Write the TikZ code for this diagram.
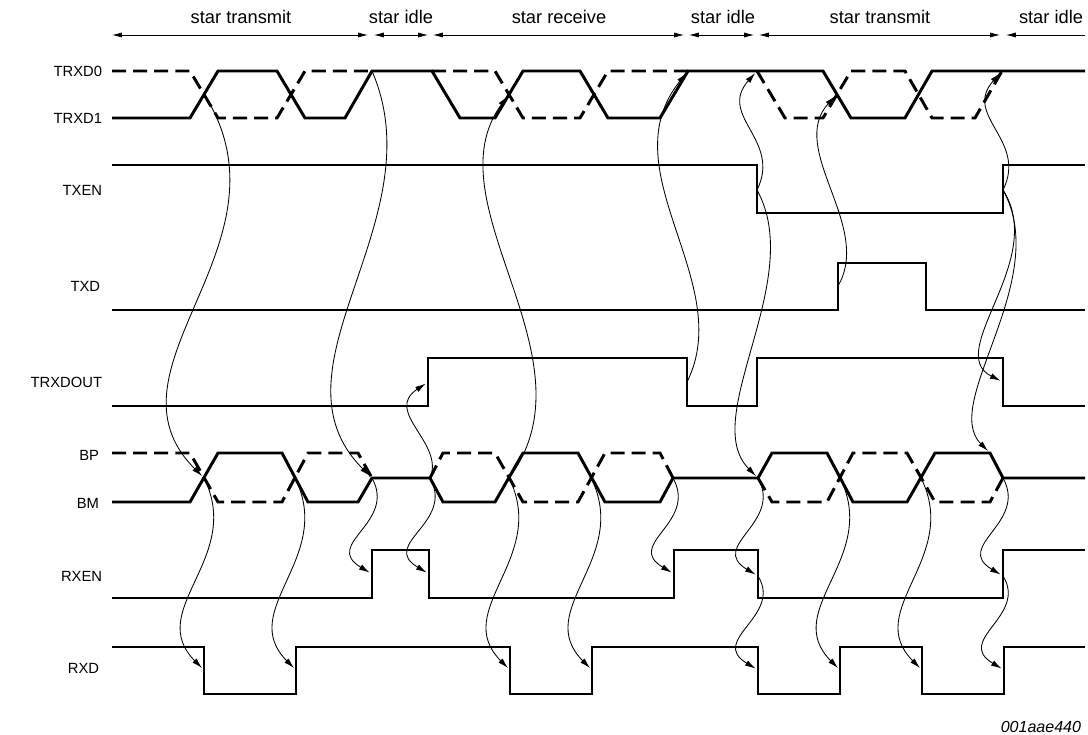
\documentclass[tikz,border=0pt]{standalone}
\usepackage{fontspec}
\setmainfont{Liberation Sans}
\usetikzlibrary{arrows.meta}
\begin{document}
\begin{tikzpicture}[x=0.025cm, y=-0.025cm,
    wave/.style={line width=2.1pt},
    dwave/.style={line width=2.1pt, dash pattern=on 10pt off 5pt},
    cause/.style={line width=0.6pt, -{Latex[length=7.5pt,width=4.2pt]}, shorten >=2pt},
    span/.style={line width=0.5pt, {Latex[length=7pt,width=3.6pt]}-{Latex[length=7pt,width=3.6pt]}},
    sig/.style={anchor=east, font=\fontsize{10.5}{13}\selectfont},
    phase/.style={font=\fontsize{13}{15}\selectfont}]
    \useasboundingbox (0,0) rectangle (1088,735);

    % phases along the top
    \node[phase] (ph1) at (241,17) {star transmit};
    \node[phase] (ph2) at (401,17) {star idle};
    \node[phase] (ph3) at (559,17) {star receive};
    \node[phase] (ph4) at (723,17) {star idle};
    \node[phase] (ph5) at (880,17) {star transmit};
    \node[phase] (ph6) at (1051,17) {star idle};
    \coordinate (b0) at (112,35);
    \coordinate (b1l) at (368,35); \coordinate (b1r) at (374,35);
    \coordinate (b2l) at (428,35); \coordinate (b2r) at (433,35);
    \coordinate (b3l) at (684,35); \coordinate (b3r) at (689,35);
    \coordinate (b4l) at (754,35); \coordinate (b4r) at (759,35);
    \coordinate (b5l) at (1000,35); \coordinate (b5r) at (1006,35);
    \coordinate (b6) at (1085,35);
    \draw[span] (b0) -- (b1l);
    \draw[span] (b1r) -- (b2l);
    \draw[span] (b2r) -- (b3l);
    \draw[span] (b3r) -- (b4l);
    \draw[span] (b4r) -- (b5l);
    \draw[line width=0.5pt, {Latex[length=7pt,width=3.6pt]}-] (b5r) -- (b6);

    % signal names
    \node[sig] (lTRXDa) at (107,71) {TRXD0};
    \node[sig] (lTRXDb) at (107,118) {TRXD1};
    \node[sig] (lTXEN) at (107,190) {TXEN};
    \node[sig] (lTXD) at (105,286) {TXD};
    \node[sig] (lTRXDOUT) at (107,382) {TRXDOUT};
    \node[sig] (lBP) at (104,455) {BP};
    \node[sig] (lBM) at (104,503) {BM};
    \node[sig] (lRXEN) at (107,576) {RXEN};
    \node[sig] (lRXD) at (104,668) {RXD};

    % TRXD0 / TRXD1
    \draw[wave] (112,118) -- (190,118) -- (218,71) -- (277,71) -- (305,118) -- (345,118) -- (372,71)
        -- (432,71) -- (460,118) -- (495,118) -- (523,71) -- (580,71) -- (608,118) -- (660,118) -- (688,71)
        -- (823,71) -- (851,118) -- (905,118) -- (932,71) -- (1085,71);
    \draw[dwave] (112,71) -- (190,71) -- (218,118) -- (277,118) -- (305,71) -- (372,71);
    \draw[dwave] (432,71) -- (495,71) -- (523,118) -- (580,118) -- (608,71) -- (688,71);
    \draw[dwave] (757,71) -- (785,118) -- (823,118) -- (851,71) -- (905,71) -- (932,118) -- (975,118) -- (1002,71);

    % TXEN, TXD, TRXDOUT
    \draw[wave] (112,165) -- (757,165) -- (757,213) -- (1003,213) -- (1003,165) -- (1085,165);
    \draw[wave] (112,310) -- (838,310) -- (838,263) -- (926,263) -- (926,310) -- (1085,310);
    \draw[wave] (112,406) -- (428,406) -- (428,358) -- (687,358) -- (687,406) -- (757,406) -- (757,358)
        -- (1003,358) -- (1003,406) -- (1085,406);

    % BP / BM
    \draw[wave] (112,502) -- (190,502) -- (218,453) -- (282,453) -- (308,502) -- (358,502) -- (372,478)
        -- (430,478) -- (443,502) -- (495,502) -- (523,453) -- (578,453) -- (605,502) -- (660,502) -- (673,478)
        -- (758,478) -- (772,453) -- (827,453) -- (853,502) -- (907,502) -- (935,453) -- (990,453) -- (1003,478)
        -- (1085,478);
    \draw[dwave] (112,453) -- (190,453) -- (218,502) -- (282,502) -- (308,453) -- (358,453) -- (372,478);
    \draw[dwave] (430,478) -- (443,453) -- (495,453) -- (523,502) -- (578,502) -- (605,453) -- (660,453) -- (673,478);
    \draw[dwave] (758,478) -- (772,502) -- (827,502) -- (853,453) -- (907,453) -- (935,502) -- (990,502) -- (1003,478);

    % RXEN, RXD
    \draw[wave] (112,598) -- (372,598) -- (372,550) -- (429,550) -- (429,598) -- (674,598) -- (674,550)
        -- (758,550) -- (758,598) -- (1003,598) -- (1003,550) -- (1085,550);
    \draw[wave] (112,647) -- (204,647) -- (204,694) -- (296,694) -- (296,647) -- (510,647) -- (510,694)
        -- (592,694) -- (592,647) -- (758,647) -- (758,694) -- (840,694) -- (840,647) -- (922,647) -- (922,694)
        -- (1004,694) -- (1004,647) -- (1085,647);

    % events
    \coordinate (trxdXa) at (204,94);
    \coordinate (trxdTopA) at (372,71);
    \coordinate (trxdXc) at (509,94);
    \coordinate (trxdTopB) at (688,71);
    \coordinate (trxdFallC) at (757,71);
    \coordinate (trxdXe) at (837,94);
    \coordinate (trxdTopD) at (1002,71);
    \coordinate (txenFall) at (757,190);
    \coordinate (txenRise) at (1003,190);
    \coordinate (txdRise) at (838,286);
    \coordinate (rxoRise) at (428,382);
    \coordinate (rxoFallA) at (687,382);
    \coordinate (rxoFallB) at (1003,382);
    \coordinate (busXa) at (204,478);
    \coordinate (busXb) at (295,478);
    \coordinate (busMa) at (372,478);
    \coordinate (busDa) at (430,478);
    \coordinate (busXc) at (509,478);
    \coordinate (busXd) at (591,478);
    \coordinate (busMb) at (673,478);
    \coordinate (busDb) at (758,478);
    \coordinate (busXe) at (840,478);
    \coordinate (busXf) at (921,478);
    \coordinate (busMc) at (1003,478);
    \coordinate (busEdge) at (990,453);
    \coordinate (rxenRa) at (372,574);
    \coordinate (rxenFa) at (429,574);
    \coordinate (rxenRb) at (674,574);
    \coordinate (rxenFb) at (758,576);
    \coordinate (rxenRc) at (1003,576);
    \coordinate (rxdFa) at (204,670);
    \coordinate (rxdRa) at (296,670);
    \coordinate (rxdFb) at (510,670);
    \coordinate (rxdRb) at (592,670);
    \coordinate (rxdFc) at (758,670);
    \coordinate (rxdRc) at (840,670);
    \coordinate (rxdFd) at (922,670);
    \coordinate (rxdRd) at (1004,670);

    % star transmit
    \draw[cause] (trxdXa) .. controls +(95,150) and +(-110,-110) .. (busXa);
    \draw[cause] (trxdTopA) .. controls +(65,150) and +(-110,-110) .. (busMa);
    \draw[cause] (busXa) .. controls +(40,80) and +(-60,-60) .. (rxdFa);
    \draw[cause] (busXb) .. controls +(40,80) and +(-60,-60) .. (rxdRa);
    \draw[cause] (busMa) .. controls +(25,45) and +(-50,-30) .. (rxenRa);
    % star idle
    \draw[cause] (busDa) .. controls +(25,45) and +(-50,-30) .. (rxenFa);
    \draw[cause] (busDa) .. controls +(15,-35) and +(-45,30) .. (rxoRise);
    % star receive
    \draw[cause] (busXc) .. controls +(90,-120) and +(-80,110) .. (trxdXc);
    \draw[cause] (busXc) .. controls +(40,80) and +(-60,-60) .. (rxdFb);
    \draw[cause] (busXd) .. controls +(40,80) and +(-60,-60) .. (rxdRb);
    \draw[cause] (busMb) .. controls +(25,45) and +(-50,-30) .. (rxenRb);
    \draw[cause] (rxoFallA) .. controls +(50,-100) and +(-80,100) .. (trxdTopB);
    % star transmit
    \draw[cause] (txenFall) .. controls +(25,-50) and +(-40,45) .. (trxdFallC);
    \draw[cause] (txenFall) .. controls +(50,90) and +(-60,-60) .. (busDb);
    \draw[cause] (txdRise) .. controls +(35,-60) and +(-50,55) .. (trxdXe);
    \draw[cause] (busDb) .. controls +(25,45) and +(-50,-30) .. (rxenFb);
    \draw[cause] (rxenFb) .. controls +(25,40) and +(-50,-30) .. (rxdFc);
    \draw[cause] (busXe) .. controls +(40,80) and +(-60,-60) .. (rxdRc);
    \draw[cause] (busXf) .. controls +(40,80) and +(-60,-60) .. (rxdFd);
    % star idle
    \draw[cause] (txenRise) .. controls +(25,-50) and +(-40,45) .. (trxdTopD);
    \draw[cause] (txenRise) .. controls +(50,90) and +(-50,-50) .. (busEdge);
    \draw[cause] (txenRise) .. controls +(45,70) and +(-60,-30) .. (rxoFallB);
    \draw[cause] (busMc) .. controls +(25,45) and +(-50,-30) .. (rxenRc);
    \draw[cause] (rxenRc) .. controls +(25,40) and +(-50,-30) .. (rxdRd);

    \node[anchor=east, font=\itshape\fontsize{11.4}{13}\selectfont] (fig) at (1086,727) {001aae440};
\end{tikzpicture}
\end{document}
